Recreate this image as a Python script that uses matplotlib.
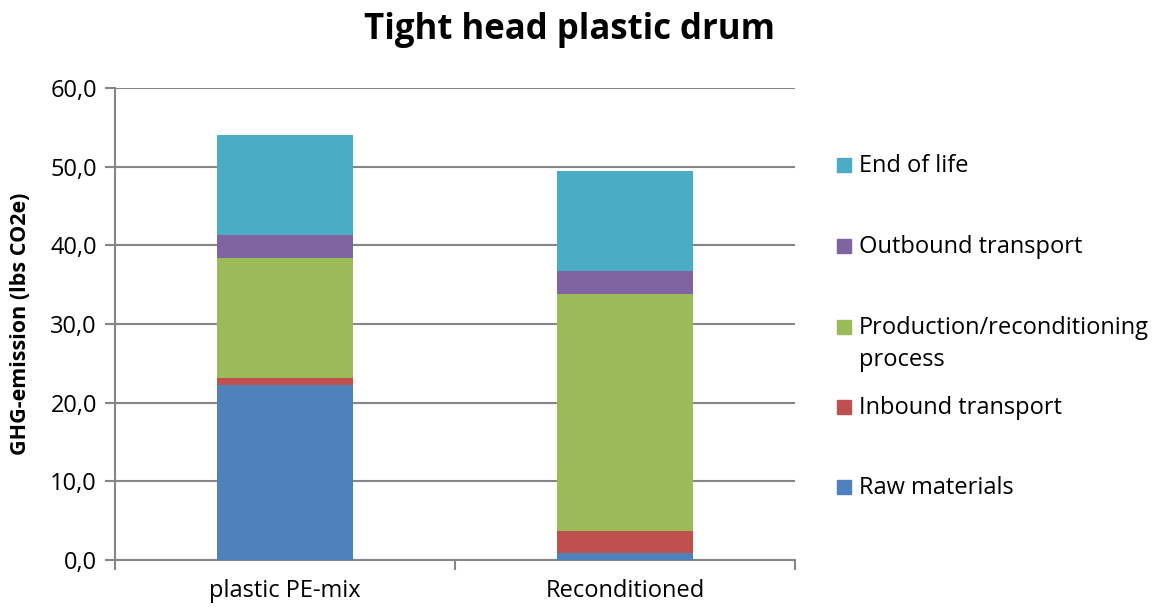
import matplotlib
matplotlib.use("Agg")
import matplotlib.pyplot as plt
from matplotlib.patches import Rectangle

plt.rcParams['font.family'] = ['Open Sans', 'DejaVu Sans']

categories = ["plastic PE-mix", "Reconditioned"]
series_names = ["Raw materials", "Inbound transport", "Production/reconditioning\nprocess",
                "Outbound transport", "End of life"]
raw_materials = [22.3, 0.85]
inbound_transport = [0.8, 2.85]
production = [15.3, 30.1]
outbound_transport = [2.9, 2.9]
end_of_life = [12.7, 12.8]
series_values = [raw_materials, inbound_transport, production, outbound_transport, end_of_life]
colors = ["#4F81BD", "#C0504D", "#9BBB59", "#8064A2", "#4BACC6"]
y_ticks = [0, 10, 20, 30, 40, 50, 60]

W, H = 1154, 608
fig = plt.figure(figsize=(W / 100, H / 100), dpi=100)
ax = fig.add_axes([115 / W, 48 / H, 680 / W, 472 / H])

x = list(range(len(categories)))
bottom = [0.0] * len(categories)
for vals, col in zip(series_values, colors):
    ax.bar(x, vals, width=0.4, bottom=bottom, color=col, zorder=3)
    bottom = [b + v for b, v in zip(bottom, vals)]

ax.set_xlim(-0.5, 1.5)
ax.set_ylim(0, 60)
ax.set_yticks(y_ticks)
ax.set_yticklabels([f"{v:.1f}".replace(".", ",") for v in y_ticks], fontsize=17)
ax.yaxis.grid(True, color="#868686", linewidth=1.5, zorder=0)
ax.set_xticks([-0.5, 0.5, 1.5])
ax.set_xticklabels([])
ax.set_xticks(x, minor=True)
ax.set_xticklabels(categories, minor=True, fontsize=17)
ax.tick_params(axis='x', which='minor', length=0, pad=14)
ax.tick_params(axis='x', which='major', length=7, width=1.5, color="#868686")
ax.tick_params(axis='y', length=7, width=1.5, color="#868686", pad=6)
for s in ["top", "right"]:
    ax.spines[s].set_visible(False)
for s in ["left", "bottom"]:
    ax.spines[s].set_color("#868686")
    ax.spines[s].set_linewidth(1.5)

ax.set_ylabel("GHG-emission (lbs CO2e)", fontsize=15.5, fontweight="bold")
ax.yaxis.set_label_coords(-84 / 680, 0.5)
fig.text(570 / W, 1 - 30 / H, "Tight head plastic drum", fontsize=25, fontweight="bold",
         ha="center", va="center")

# legend (top entry first)
legend_y = [165, 246, 327, 407, 487]
for name, col, yy in zip(series_names[::-1], colors[::-1], legend_y):
    fig.add_artist(Rectangle(((837) / W, 1 - (yy + 7) / H), 14 / W, 14 / H,
                             transform=fig.transFigure, color=col))
    for i, line in enumerate(name.split("\n")):
        fig.text(859 / W, 1 - (yy + 1 + i * 32) / H, line, fontsize=17,
                 ha="left", va="center")

fig.savefig("out.png", dpi=100)
